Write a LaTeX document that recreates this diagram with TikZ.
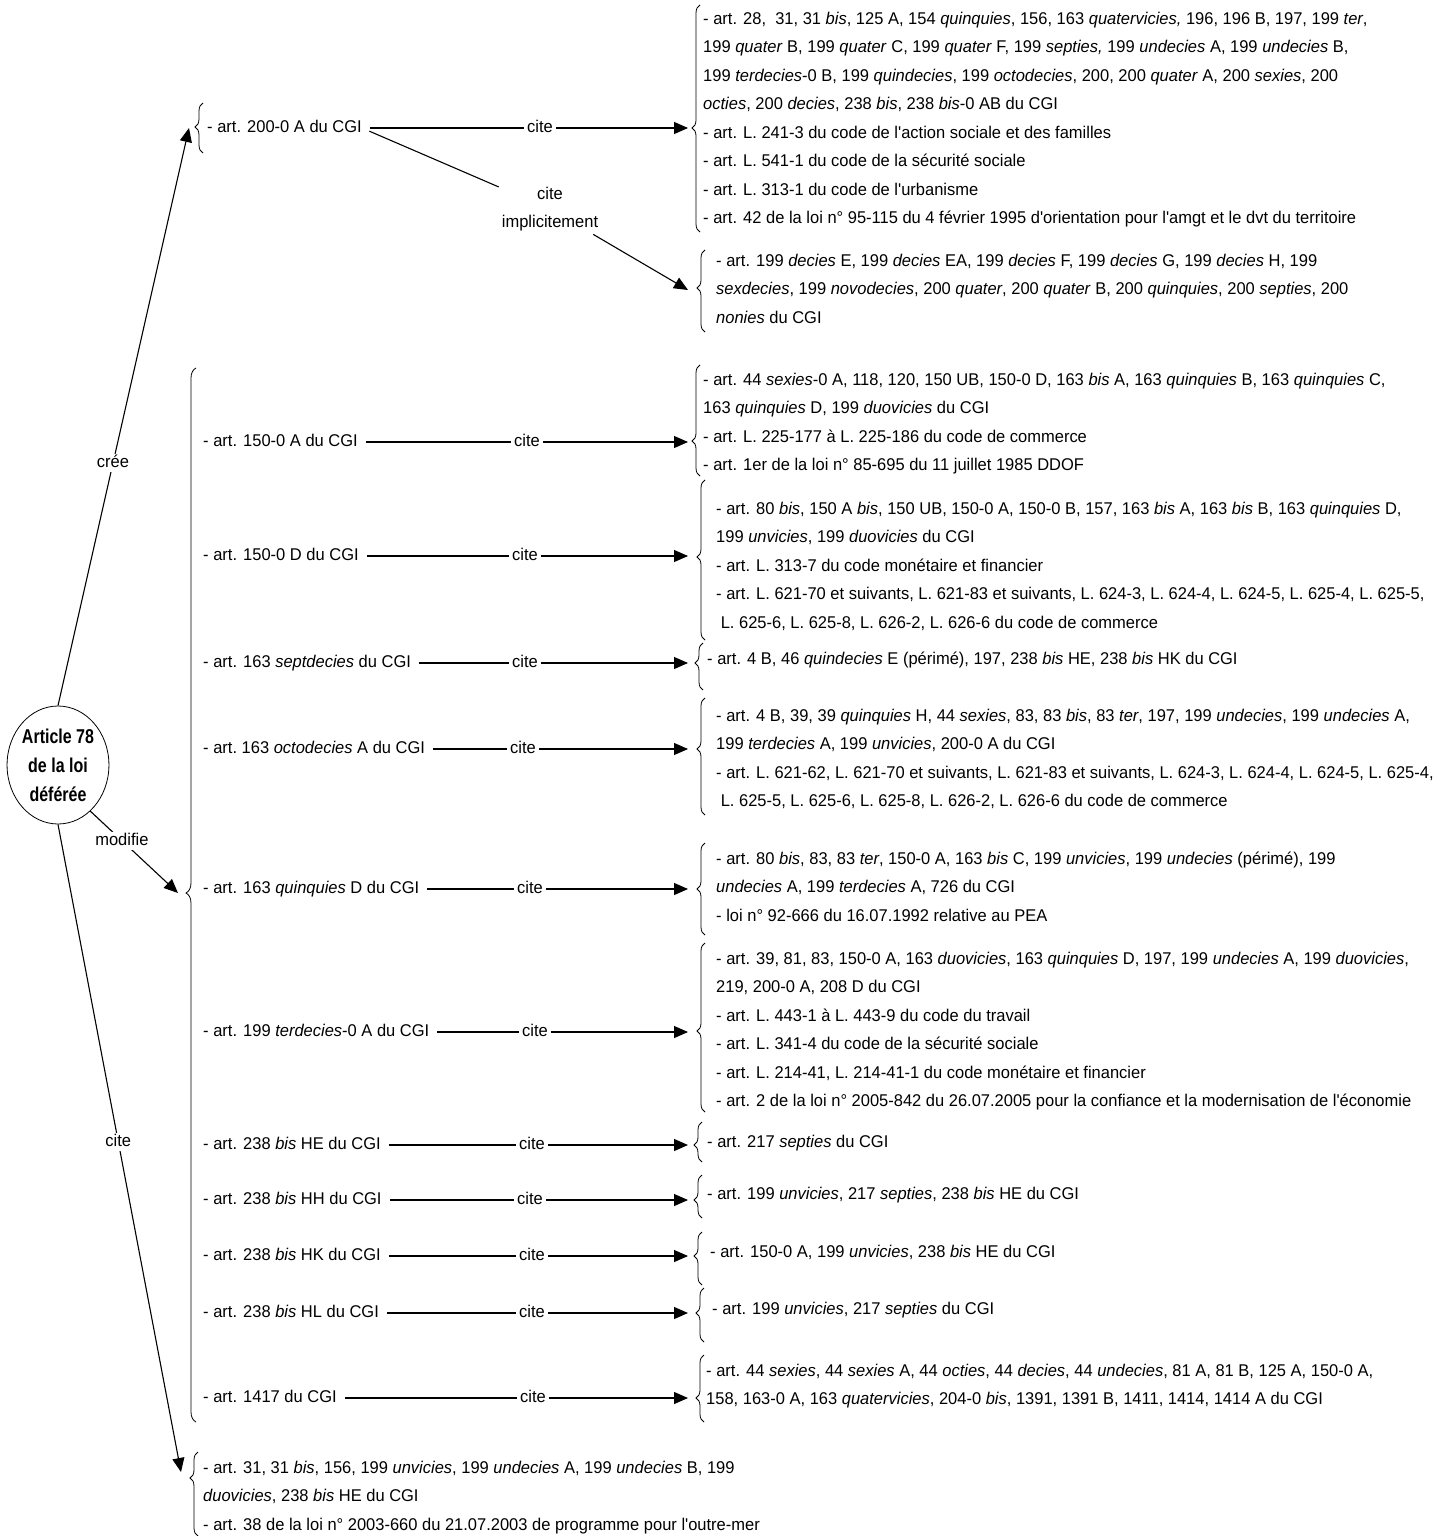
\documentclass[tikz,border=0pt]{standalone}
\usepackage{fontspec}
\setmainfont{Liberation Sans}[FakeStretch=0.97,Ligatures=TeXOff]
\newfontfamily\titlefont{Liberation Sans}[FakeStretch=0.8]
\usetikzlibrary{arrows.meta,decorations.pathreplacing,shapes.geometric}
\newcommand\mybrace[5][8]{%
  \pgfmathsetmacro\braceasp{(#5-#4)/(#5-#3)}%
  \draw[decorate,decoration={brace,amplitude=#1pt,aspect=\braceasp},line width=0.8pt] (#2+#1,#5) -- (#2+#1,#3);}
\begin{document}
\begin{tikzpicture}[x=1pt,y=-1pt,
  every node/.style={font=\fontsize{17}{28.5}\selectfont},
  item/.style={anchor=west,inner sep=0pt,text height=12.5pt,text depth=3.5pt},
  lst/.style={anchor=north west,align=left,inner sep=0pt},
  lab/.style={fill=white,inner xsep=3pt,inner ysep=1pt,text height=12.5pt,text depth=3.5pt},
  arr/.style={line width=1.1pt,-{Triangle[length=14pt,width=12pt]}},
  ln/.style={line width=1.1pt},
  gap/.style={shorten <=8pt}]
\useasboundingbox (0,0) rectangle (1443,1536);

% central node
\node[draw,ellipse,minimum width=98pt,minimum height=118pt,inner sep=0pt,align=center,line width=0.8pt,
      font=\titlefont\bfseries\fontsize{20}{29}\selectfont] (circ) at (58,765) {Article 78\\de la loi\\déférée};

% left items
\node[item] (i0) at (207,128) {- art. 200-0 A du CGI};
\node[item] (i1) at (203,442) {- art. 150-0 A du CGI};
\node[item] (i2) at (203,556) {- art. 150-0 D du CGI};
\node[item] (i3) at (203,663) {- art. 163 \textit{septdecies} du CGI};
\node[item] (i4) at (203,749) {- art.\ 163 \textit{octodecies} A du CGI};
\node[item] (i5) at (203,889) {- art. 163 \textit{quinquies} D du CGI};
\node[item] (i6) at (203,1032) {- art. 199 \textit{terdecies}-0 A du CGI};
\node[item] (i7) at (203,1145) {- art. 238 \textit{bis} HE du CGI};
\node[item] (i8) at (203,1200) {- art. 238 \textit{bis} HH du CGI};
\node[item] (i9) at (203,1256) {- art. 238 \textit{bis} HK du CGI};
\node[item] (i10) at (203,1313) {- art. 238 \textit{bis} HL du CGI};
\node[item] (i11) at (203,1398) {- art. 1417 du CGI};

% right lists
\node[lst] (lA) at (703,4) {\strut- art. 28, \ 31, 31 \textit{bis}, 125 A, 154 \textit{quinquies}, 156, 163 \textit{quatervicies,} 196, 196 B, 197, 199 \textit{ter},\\
199 \textit{quater} B, 199 \textit{quater} C, 199 \textit{quater} F, 199 \textit{septies,} 199 \textit{undecies} A, 199 \textit{undecies} B,\\
199 \textit{terdecies}-0 B, 199 \textit{quindecies}, 199 \textit{octodecies}, 200, 200 \textit{quater} A, 200 \textit{sexies}, 200\\
\textit{octies}, 200 \textit{decies}, 238 \textit{bis}, 238 \textit{bis}-0 AB du CGI\\
- art. L. 241-3 du code de l'action sociale et des familles\\
- art. L. 541-1 du code de la sécurité sociale\\
- art. L. 313-1 du code de l'urbanisme\\
- art. 42 de la loi n° 95-115 du 4 février 1995 d'orientation pour l'amgt et le dvt du territoire};

\node[lst] (lB) at (716,246) {\strut- art. 199 \textit{decies} E, 199 \textit{decies} EA, 199 \textit{decies} F, 199 \textit{decies} G, 199 \textit{decies} H, 199\\
\textit{sexdecies}, 199 \textit{novodecies}, 200 \textit{quater}, 200 \textit{quater} B, 200 \textit{quinquies}, 200 \textit{septies}, 200\\
\textit{nonies} du CGI};

\node[lst] (lC) at (703,365) {\strut- art. 44 \textit{sexies}-0 A, 118, 120, 150 UB, 150-0 D, 163 \textit{bis} A, 163 \textit{quinquies} B, 163 \textit{quinquies} C,\\
163 \textit{quinquies} D, 199 \textit{duovicies} du CGI\\
- art. L. 225-177 à L. 225-186 du code de commerce\\
- art. 1er de la loi n° 85-695 du 11 juillet 1985 DDOF};

\node[lst] (lD) at (716,494) {\strut- art. 80 \textit{bis}, 150 A \textit{bis}, 150 UB, 150-0 A, 150-0 B, 157, 163 \textit{bis} A, 163 \textit{bis} B, 163 \textit{quinquies} D,\\
199 \textit{unvicies}, 199 \textit{duovicies} du CGI\\
- art. L. 313-7 du code monétaire et financier\\
- art. L. 621-70 et suivants, L. 621-83 et suivants, L. 624-3, L. 624-4, L. 624-5, L. 625-4, L. 625-5,\\
\ L. 625-6, L. 625-8, L. 626-2, L. 626-6 du code de commerce};

\node[lst] (lE) at (707,644) {\strut- art. 4 B, 46 \textit{quindecies} E (périmé), 197, 238 \textit{bis} HE, 238 \textit{bis} HK du CGI};

\node[lst] (lF) at (716,701) {\strut- art. 4 B, 39, 39 \textit{quinquies} H, 44 \textit{sexies}, 83, 83 \textit{bis}, 83 \textit{ter}, 197, 199 \textit{undecies}, 199 \textit{undecies} A,\\
199 \textit{terdecies} A, 199 \textit{unvicies}, 200-0 A du CGI\\
- art. L. 621-62, L. 621-70 et suivants, L. 621-83 et suivants, L. 624-3, L. 624-4, L. 624-5, L. 625-4,\\
\ L. 625-5, L. 625-6, L. 625-8, L. 626-2, L. 626-6 du code de commerce};

\node[lst] (lG) at (716,844) {\strut- art. 80 \textit{bis}, 83, 83 \textit{ter}, 150-0 A, 163 \textit{bis} C, 199 \textit{unvicies}, 199 \textit{undecies} (périmé), 199\\
\textit{undecies} A, 199 \textit{terdecies} A, 726 du CGI\\
- loi n° 92-666 du 16.07.1992 relative au PEA};

\node[lst] (lH) at (716,944) {\strut- art. 39, 81, 83, 150-0 A, 163 \textit{duovicies}, 163 \textit{quinquies} D, 197, 199 \textit{undecies} A, 199 \textit{duovicies},\\
219, 200-0 A, 208 D du CGI\\
- art. L. 443-1 à L. 443-9 du code du travail\\
- art. L. 341-4 du code de la sécurité sociale\\
- art. L. 214-41, L. 214-41-1 du code monétaire et financier\\
- art. 2 de la loi n° 2005-842 du 26.07.2005 pour la confiance et la modernisation de l'économie};

\node[lst] (lI) at (707,1127) {\strut- art. 217 \textit{septies} du CGI};
\node[lst] (lJ) at (707,1179) {\strut- art. 199 \textit{unvicies}, 217 \textit{septies}, 238 \textit{bis} HE du CGI};
\node[lst] (lK) at (710,1237) {\strut- art. 150-0 A, 199 \textit{unvicies}, 238 \textit{bis} HE du CGI};
\node[lst] (lL) at (712,1294) {\strut- art. 199 \textit{unvicies}, 217 \textit{septies} du CGI};
\node[lst] (lM) at (706,1356) {\strut- art. 44 \textit{sexies}, 44 \textit{sexies} A, 44 \textit{octies}, 44 \textit{decies}, 44 \textit{undecies}, 81 A, 81 B, 125 A, 150-0 A,\\
158, 163-0 A, 163 \textit{quatervicies}, 204-0 \textit{bis}, 1391, 1391 B, 1411, 1414, 1414 A du CGI};
\node[lst] (lN) at (203,1453) {\strut- art. 31, 31 \textit{bis}, 156, 199 \textit{unvicies}, 199 \textit{undecies} A, 199 \textit{undecies} B, 199\\
\textit{duovicies}, 238 \textit{bis} HE du CGI\\
- art. 38 de la loi n° 2003-660 du 21.07.2003 de programme pour l'outre-mer};

% braces [amplitude]{tipx}{top}{tipy}{bottom}
\mybrace{195}{103}{127}{153}
\mybrace[10]{186}{368}{893}{1422}
\mybrace{692}{5}{128}{232}
\mybrace{697}{250}{288}{332}
\mybrace{692}{365}{441}{476}
\mybrace{697}{480}{557}{640}
\mybrace{695}{643}{663}{690}
\mybrace{697}{698}{749}{815}
\mybrace{697}{843}{889}{935}
\mybrace{697}{943}{1031}{1112}
\mybrace{694}{1122}{1145}{1162}
\mybrace{694}{1175}{1200}{1218}
\mybrace{694}{1232}{1256}{1285}
\mybrace{696}{1288}{1313}{1342}
\mybrace{696}{1355}{1398}{1422}
\mybrace{190}{1452}{1478}{1536}

% tips
\coordinate (tCree) at (189,128);
\coordinate (tMod) at (178,893);
\coordinate (tN) at (181,1472);
\coordinate (tA) at (688,128);
\coordinate (tB) at (688,290);
\coordinate (tC) at (688,442);
\coordinate (tD) at (688,556);
\coordinate (tE) at (688,663);
\coordinate (tF) at (688,749);
\coordinate (tG) at (688,889);
\coordinate (tH) at (688,1032);
\coordinate (tI) at (688,1145);
\coordinate (tJ) at (688,1200);
\coordinate (tK) at (688,1256);
\coordinate (tL) at (688,1313);
\coordinate (tM) at (688,1398);

% connectors from the central node
\draw[arr] (circ.north) -- (tCree) node[lab,pos=0.42] {crée};
\draw[arr] (circ.-55) -- (tMod) node[lab,pos=0.36] {modifie};
\draw[arr] (circ.south) -- (tN) node[lab,pos=0.49] {cite};

% cite implicitement
\node[align=center,inner sep=3pt] (impl) at (550,209) {cite\\implicitement};
\draw[ln,gap] (i0.east) -- (impl);
\draw[arr] (impl) -- (tB);

% cite connectors
\draw[arr,gap] (i0.east) -- (tA) node[lab] at (540,128) {cite};
\draw[arr,gap] (i1.east) -- (tC) node[lab] at (527,442) {cite};
\draw[arr,gap] (i2.east) -- (tD) node[lab] at (525,556) {cite};
\draw[arr,gap] (i3.east) -- (tE) node[lab] at (525,663) {cite};
\draw[arr,gap] (i4.east) -- (tF) node[lab] at (523,749) {cite};
\draw[arr,gap] (i5.east) -- (tG) node[lab] at (530,889) {cite};
\draw[arr,gap] (i6.east) -- (tH) node[lab] at (535,1032) {cite};
\draw[arr,gap] (i7.east) -- (tI) node[lab] at (532,1145) {cite};
\draw[arr,gap] (i8.east) -- (tJ) node[lab] at (530,1200) {cite};
\draw[arr,gap] (i9.east) -- (tK) node[lab] at (532,1256) {cite};
\draw[arr,gap] (i10.east) -- (tL) node[lab] at (532,1313) {cite};
\draw[arr,gap] (i11.east) -- (tM) node[lab] at (533,1398) {cite};
\end{tikzpicture}
\end{document}
